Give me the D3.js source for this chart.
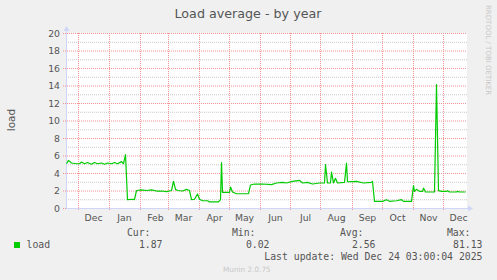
<!DOCTYPE html>
<html>
<head>
<meta charset="utf-8">
<script src="https://cdn.jsdelivr.net/npm/d3@7/dist/d3.min.js"></script>
<style>
  body { margin: 0; background: #f0f0f0; }
  svg { display: block; }
</style>
</head>
<body>
<div id="chart"></div>
<script>
// Munin "Load average - by year" (1 px ~ 1 day)
const loadPoints = [
  ['2024-11-20', 5.06], ['2024-11-22', 5.44], ['2024-11-25', 5.14], ['2024-11-30', 5.06],
  ['2024-12-03', 5.06], ['2024-12-05', 5.25], ['2024-12-08', 5.06], ['2024-12-11', 5.2],
  ['2024-12-15', 5.0], ['2024-12-18', 5.2], ['2024-12-21', 5.06], ['2024-12-25', 5.14],
  ['2024-12-28', 5.0], ['2024-12-31', 5.14], ['2025-01-04', 5.06], ['2025-01-07', 5.2],
  ['2025-01-10', 5.06], ['2025-01-14', 5.3], ['2025-01-16', 5.06], ['2025-01-18', 6.1],
  ['2025-01-20', 0.95], ['2025-01-25', 1.0], ['2025-01-27', 0.95], ['2025-01-29', 2.0],
  ['2025-02-03', 2.08], ['2025-02-08', 2.0], ['2025-02-13', 2.08], ['2025-02-18', 1.94],
  ['2025-02-23', 1.94], ['2025-02-28', 1.87], ['2025-03-05', 2.0], ['2025-03-07', 3.04],
  ['2025-03-09', 2.13], ['2025-03-11', 2.0], ['2025-03-16', 1.94], ['2025-03-20', 2.13],
  ['2025-03-23', 2.0], ['2025-03-25', 0.95], ['2025-03-28', 1.0], ['2025-03-31', 1.6],
  ['2025-04-02', 1.0], ['2025-04-05', 0.83], ['2025-04-10', 0.83], ['2025-04-12', 0.69],
  ['2025-04-16', 0.69], ['2025-04-21', 0.69], ['2025-04-23', 0.95], ['2025-04-24', 5.2],
  ['2025-04-25', 1.79], ['2025-05-02', 1.79], ['2025-05-03', 2.4], ['2025-05-05', 1.83],
  ['2025-05-09', 1.63], ['2025-05-15', 1.63], ['2025-05-21', 1.65], ['2025-05-23', 2.63],
  ['2025-05-27', 2.74], ['2025-06-04', 2.74], ['2025-06-13', 2.67], ['2025-06-18', 2.86],
  ['2025-06-24', 2.93], ['2025-06-28', 2.86], ['2025-07-04', 3.04], ['2025-07-11', 3.16],
  ['2025-07-14', 2.86], ['2025-07-19', 2.93], ['2025-07-24', 2.74], ['2025-07-31', 2.86],
  ['2025-08-05', 2.86], ['2025-08-06', 4.95], ['2025-08-08', 2.86], ['2025-08-11', 2.86],
  ['2025-08-12', 4.1], ['2025-08-14', 2.86], ['2025-08-16', 3.4], ['2025-08-18', 2.86],
  ['2025-08-25', 2.93], ['2025-08-27', 5.14], ['2025-08-28', 3.0], ['2025-09-06', 3.04],
  ['2025-09-13', 2.86], ['2025-09-21', 2.93], ['2025-09-22', 3.04], ['2025-09-24', 0.76],
  ['2025-10-02', 0.76], ['2025-10-06', 0.95], ['2025-10-09', 0.76], ['2025-10-16', 0.83],
  ['2025-10-21', 0.95], ['2025-10-23', 0.76], ['2025-10-31', 0.76], ['2025-11-02', 2.55],
  ['2025-11-03', 1.9], ['2025-11-05', 2.13], ['2025-11-08', 1.9], ['2025-11-11', 1.9],
  ['2025-11-12', 2.28], ['2025-11-14', 1.83], ['2025-11-23', 1.83], ['2025-11-25', 14.1],
  ['2025-11-27', 1.98], ['2025-11-30', 1.9], ['2025-12-05', 1.9], ['2025-12-06', 1.98],
  ['2025-12-08', 1.83], ['2025-12-15', 1.83], ['2025-12-16', 1.9], ['2025-12-18', 1.83],
  ['2025-12-24', 1.83],
];

const yTicks = [0, 2, 4, 6, 8, 10, 12, 14, 16, 18, 20];
const yMinorTicks = [1, 3, 5, 7, 9, 11, 13, 15, 17, 19];

const legendHeaders = ['Cur:', 'Min:', 'Avg:', 'Max:'];
const legendValues = ['1.87', '0.02', '2.56', '81.13'];

const W = 497, H = 280;
const plot = { left: 66, right: 467, top: 33, bottom: 208 };
const axisColor = '#cfd6f8';
const gridColor = '#f09494';
const textColor = '#555';
const mono = '"DejaVu Sans Mono", monospace';
const sans = '"DejaVu Sans", sans-serif';

const parse = d3.timeParse('%Y-%m-%d');
const data = loadPoints.map(([d, v]) => ({ date: parse(d), value: v }));

const start = new Date(2024, 10, 19);
const end = new Date(2025, 11, 24);

const x = d3.scaleTime().domain([start, end]).range([65.5, 465.5]);
const y = d3.scaleLinear().domain([0, 20]).range([plot.bottom, plot.top]);

const svg = d3.select('#chart').append('svg')
  .attr('width', W)
  .attr('height', H);

svg.append('rect')
  .attr('width', W).attr('height', H)
  .attr('fill', '#f0f0f0');

// Plot area
svg.append('rect')
  .attr('x', plot.left).attr('y', plot.top)
  .attr('width', plot.right - plot.left).attr('height', plot.bottom - plot.top)
  .attr('fill', '#fff');

// Minor horizontal grid
svg.append('g')
  .selectAll('line')
  .data(yMinorTicks)
  .join('line')
  .attr('x1', plot.left).attr('x2', plot.right)
  .attr('y1', d => y(d) + 0.5).attr('y2', d => y(d) + 0.5)
  .attr('stroke', '#c8c8c8')
  .attr('stroke-dasharray', '1,1');

// Major horizontal grid
svg.append('g')
  .selectAll('line')
  .data(yTicks)
  .join('line')
  .attr('x1', plot.left - 3).attr('x2', plot.right)
  .attr('y1', d => y(d) + 0.5).attr('y2', d => y(d) + 0.5)
  .attr('stroke', gridColor)
  .attr('stroke-dasharray', '1,1');

// Month grid (1st of each month)
const monthStarts = d3.timeMonth.range(d3.timeMonth.ceil(start), end);
svg.append('g')
  .selectAll('line')
  .data(monthStarts)
  .join('line')
  .attr('x1', d => Math.round(x(d)) + 0.5).attr('x2', d => Math.round(x(d)) + 0.5)
  .attr('y1', plot.top).attr('y2', plot.bottom + 3)
  .attr('stroke', gridColor)
  .attr('stroke-dasharray', '1,1');

// Axes with arrows
svg.append('line')
  .attr('x1', plot.left + 0.5).attr('x2', plot.left + 0.5)
  .attr('y1', 30).attr('y2', plot.bottom + 1)
  .attr('stroke', axisColor);
svg.append('line')
  .attr('x1', plot.left).attr('x2', 469)
  .attr('y1', plot.bottom + 0.5).attr('y2', plot.bottom + 0.5)
  .attr('stroke', axisColor);
svg.append('path')
  .attr('d', 'M63.5,31L69.5,31L66.5,26Z')
  .attr('fill', axisColor);
svg.append('path')
  .attr('d', 'M468,205.5L468,211.5L473,208.5Z')
  .attr('fill', axisColor);

// Y tick labels
svg.append('g')
  .selectAll('text')
  .data(yTicks)
  .join('text')
  .attr('x', 60)
  .attr('y', d => y(d) + 3.5)
  .attr('text-anchor', 'end')
  .attr('font-family', sans)
  .attr('font-size', '9.3px')
  .attr('fill', textColor)
  .text(d => d);

// Month labels, centred mid-month
const monthMids = monthStarts.map(d => d3.timeDay.offset(d, 15));
const fmt = d3.timeFormat('%b');
svg.append('g')
  .selectAll('text')
  .data(monthMids)
  .join('text')
  .attr('x', d => x(d) + 1)
  .attr('y', 221)
  .attr('text-anchor', 'middle')
  .attr('font-family', sans)
  .attr('font-size', '9.3px')
  .attr('fill', textColor)
  .text(d => fmt(d));

// Load line
const line = d3.line()
  .x(d => x(d.date))
  .y(d => y(d.value));

svg.append('path')
  .datum(data)
  .attr('d', line)
  .attr('fill', 'none')
  .attr('stroke', '#00cc00')
  .attr('stroke-width', 1.2)
  .attr('stroke-linejoin', 'round');

// Title and labels
svg.append('text')
  .attr('x', 248).attr('y', 17.5)
  .attr('text-anchor', 'middle')
  .attr('font-family', sans)
  .attr('font-size', '12.7px')
  .attr('fill', textColor)
  .text('Load average - by year');

svg.append('text')
  .attr('transform', 'translate(15,120) rotate(-90)')
  .attr('text-anchor', 'middle')
  .attr('font-family', sans)
  .attr('font-size', '10.5px')
  .attr('fill', textColor)
  .text('load');

svg.append('text')
  .attr('transform', 'translate(485.5,5) rotate(90)')
  .attr('font-family', sans)
  .attr('font-size', '7px')
  .attr('fill', '#c8c8c8')
  .text('RRDTOOL / TOBI OETIKER');

// Legend
svg.append('rect')
  .attr('x', 14).attr('y', 242)
  .attr('width', 6).attr('height', 6)
  .attr('fill', '#00cc00');

svg.append('text')
  .attr('x', 26.5).attr('y', 248)
  .attr('font-family', mono)
  .attr('font-size', '9.8px')
  .attr('fill', textColor)
  .text('load');

const headerRight = [150.5, 255.5, 363.5, 470.5];
const valueRight = [162.5, 269.5, 375.5, 482.5];

svg.append('g')
  .selectAll('text')
  .data(legendHeaders)
  .join('text')
  .attr('x', (d, i) => headerRight[i])
  .attr('y', 236)
  .attr('text-anchor', 'end')
  .attr('font-family', mono)
  .attr('font-size', '9.8px')
  .attr('fill', textColor)
  .text(d => d);

svg.append('g')
  .selectAll('text')
  .data(legendValues)
  .join('text')
  .attr('x', (d, i) => valueRight[i])
  .attr('y', 248)
  .attr('text-anchor', 'end')
  .attr('font-family', mono)
  .attr('font-size', '9.8px')
  .attr('fill', textColor)
  .text(d => d);

svg.append('text')
  .attr('x', 482.5).attr('y', 260)
  .attr('text-anchor', 'end')
  .attr('font-family', mono)
  .attr('font-size', '9.8px')
  .attr('fill', textColor)
  .text('Last update: Wed Dec 24 03:00:04 2025');

svg.append('text')
  .attr('x', 223).attr('y', 272)
  .attr('font-family', sans)
  .attr('font-size', '7.3px')
  .attr('fill', '#c8c8c8')
  .text('Munin 2.0.75');
</script>
</body>
</html>
